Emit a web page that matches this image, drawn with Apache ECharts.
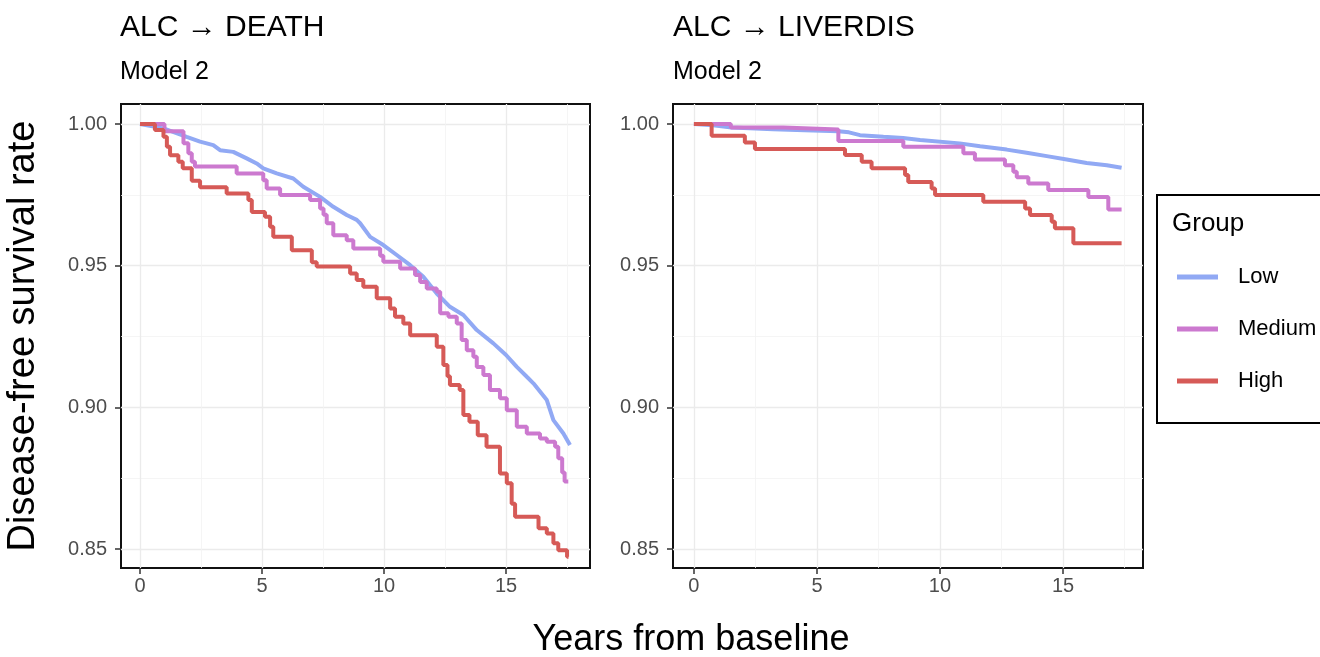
<!DOCTYPE html>
<html>
<head>
<meta charset="utf-8">
<script src="https://cdn.jsdelivr.net/npm/echarts@6/dist/echarts.min.js"></script>
<style>
  html, body { margin: 0; padding: 0; background: #fff; }
  #chart { width: 1320px; height: 657px; }
</style>
</head>
<body>
<div id="chart"></div>
<script>
// ALC -> DEATH, Kaplan-Meier style curves (years, survival)
const deathLowT = [0, 0.96, 1.91, 2.46, 3.0, 3.28, 3.82, 4.37, 4.78, 5.05, 5.6, 6.28, 6.69, 7.38, 7.92, 8.47, 8.88, 9.02, 9.43, 9.97, 10.52, 11.07, 11.61, 12.16, 12.7, 13.25, 13.8, 14.48, 15.0, 15.44, 15.85, 16.12, 16.67, 16.94, 17.35, 17.62];
const deathLowS = [1.0, 0.9985, 0.9955, 0.9938, 0.9926, 0.9908, 0.9902, 0.9879, 0.9861, 0.9844, 0.9826, 0.9808, 0.9779, 0.9743, 0.9708, 0.9679, 0.9662, 0.965, 0.9602, 0.9573, 0.9538, 0.9502, 0.9461, 0.9402, 0.9355, 0.9326, 0.9273, 0.9226, 0.9185, 0.9143, 0.9108, 0.9085, 0.9026, 0.8955, 0.8908, 0.8867];

const deathMedT = [0, 1.0, 1.78, 1.98, 2.12, 2.25, 3.96, 5.05, 5.19, 5.74, 6.97, 7.38, 7.52, 7.65, 7.92, 8.47, 8.74, 9.84, 9.97, 10.66, 11.27, 11.48, 11.75, 12.16, 12.3, 12.64, 12.98, 13.18, 13.39, 13.66, 13.8, 14.07, 14.34, 14.75, 15.03, 15.44, 15.85, 16.39, 16.67, 17.01, 17.14, 17.3, 17.4, 17.55];
const deathMedS = [1.0, 0.9975, 0.9932, 0.9897, 0.9867, 0.985, 0.9826, 0.9802, 0.9773, 0.975, 0.9732, 0.9702, 0.968, 0.965, 0.9608, 0.959, 0.9561, 0.9535, 0.9514, 0.949, 0.9467, 0.9443, 0.942, 0.9408, 0.9332, 0.932, 0.9296, 0.9238, 0.9202, 0.9179, 0.9143, 0.9114, 0.9061, 0.9032, 0.899, 0.8932, 0.8908, 0.889, 0.8879, 0.8861, 0.882, 0.877, 0.8738, 0.8738];

const deathHighT = [0, 0.61, 0.96, 1.1, 1.23, 1.57, 1.75, 2.12, 2.46, 3.55, 4.44, 4.58, 5.12, 5.33, 5.46, 6.22, 7.04, 7.24, 8.61, 8.88, 9.15, 9.7, 10.25, 10.45, 10.79, 11.07, 12.16, 12.43, 12.6, 12.7, 13.1, 13.25, 13.5, 13.84, 14.2, 14.75, 15.03, 15.23, 15.37, 16.33, 16.67, 16.94, 17.14, 17.5, 17.56];
const deathHighS = [1.0, 0.9979, 0.9955, 0.992, 0.989, 0.9867, 0.9844, 0.98, 0.9777, 0.9755, 0.9732, 0.969, 0.9673, 0.9638, 0.9602, 0.9555, 0.9512, 0.9497, 0.9473, 0.945, 0.9426, 0.9385, 0.9349, 0.932, 0.9296, 0.9255, 0.9214, 0.915, 0.911, 0.9079, 0.9061, 0.8973, 0.8949, 0.8902, 0.8861, 0.8767, 0.8732, 0.866, 0.8614, 0.8573, 0.8555, 0.852, 0.8496, 0.8473, 0.8473];

// ALC -> LIVERDIS
const liverLowT = [0, 0.78, 1.53, 3.22, 4.5, 5.87, 6.3, 6.75, 7.7, 8.5, 9.19, 10.8, 11.63, 12.71, 13.52, 14.34, 15.15, 15.96, 16.78, 17.38];
const liverLowS = [1.0, 0.9996, 0.9988, 0.9982, 0.9978, 0.9975, 0.9971, 0.9961, 0.9955, 0.9951, 0.9944, 0.9932, 0.9922, 0.991, 0.9899, 0.9887, 0.9875, 0.9863, 0.9855, 0.9846];

const liverMedT = [0, 1.5, 3.63, 5.87, 8.51, 10.95, 11.42, 12.64, 12.98, 13.12, 13.59, 14.4, 16.03, 16.84, 17.38];
const liverMedS = [1.0, 0.9988, 0.9981, 0.994, 0.992, 0.9897, 0.9875, 0.9855, 0.9832, 0.9812, 0.979, 0.9767, 0.9743, 0.9699, 0.9699];

const liverHighT = [0, 0.72, 2.07, 2.48, 6.14, 6.82, 7.22, 8.58, 8.71, 9.66, 9.8, 11.76, 13.46, 13.66, 14.54, 14.67, 15.42, 17.38];
const liverHighS = [1.0, 0.9959, 0.9935, 0.9912, 0.9891, 0.9867, 0.9844, 0.982, 0.9796, 0.9773, 0.975, 0.9726, 0.9702, 0.9679, 0.9655, 0.9632, 0.9579, 0.9579];

const groups = ['Low', 'Medium', 'High'];
const colors = ['#91a9f4', '#cc79cf', '#d65a57'];
const xTicks = [0, 5, 10, 15];
const yTicks = [0.85, 0.90, 0.95, 1.00];

const font = "'Liberation Sans', Arial, Helvetica, sans-serif";

function pairs(ts, ss) {
    return ts.map((t, i) => [t, ss[i]]);
}

function xAxisFor(gridIndex, min, max) {
    return {
        type: 'value', gridIndex: gridIndex, min: min, max: max, splitNumber: 4,
        axisLine: { show: false, onZero: false },
        axisTick: { show: true, customValues: xTicks, length: 6, lineStyle: { color: '#333', width: 1.5 } },
        axisLabel: { customValues: xTicks, margin: 8, fontSize: 20, color: '#4d4d4d', fontFamily: font },
        splitLine: { show: true, lineStyle: { color: '#ebebeb', width: 1.3 } },
        minorTick: { show: false, splitNumber: 2 },
        minorSplitLine: { show: true, lineStyle: { color: '#f2f2f2', width: 0.8 } }
    };
}

function yAxisFor(gridIndex, withName) {
    const ax = {
        type: 'value', gridIndex: gridIndex, min: 0.8433, max: 1.0071, splitNumber: 4,
        axisLine: { show: false, onZero: false },
        axisTick: { show: true, customValues: yTicks, length: 6, lineStyle: { color: '#333', width: 1.5 } },
        axisLabel: { customValues: yTicks, margin: 14, fontSize: 20, color: '#4d4d4d', fontFamily: font,
            formatter: v => v.toFixed(2) },
        splitLine: { show: true, lineStyle: { color: '#ebebeb', width: 1.3 } },
        minorTick: { show: false, splitNumber: 2 },
        minorSplitLine: { show: true, lineStyle: { color: '#f2f2f2', width: 0.8 } }
    };
    if (withName) {
        ax.name = 'Disease-free survival rate';
        ax.nameLocation = 'middle';
        ax.nameRotate = 90;
        ax.nameGap = 78;
        ax.nameTextStyle = { fontSize: 38, color: '#000', fontFamily: font };
    }
    return ax;
}

const curves = [
    [pairs(deathLowT, deathLowS), pairs(deathMedT, deathMedS), pairs(deathHighT, deathHighS)],
    [pairs(liverLowT, liverLowS), pairs(liverMedT, liverMedS), pairs(liverHighT, liverHighS)]
];

const series = [];
curves.forEach((panel, p) => {
    panel.forEach((data, g) => {
        series.push({
            name: groups[g], type: 'line', xAxisIndex: p, yAxisIndex: p,
            data: data, step: g === 0 ? false : 'end',
            showSymbol: false, symbol: 'none', silent: true,
            color: colors[g],
            lineStyle: { width: 4, color: colors[g] },
            z: 2 + g
        });
    });
});

const chart = echarts.init(document.getElementById('chart'));

chart.setOption({
    animation: false,
    backgroundColor: '#fff',
    textStyle: { fontFamily: font },
    title: [
        { text: 'ALC → DEATH', left: 120, top: 13, padding: 0, textStyle: { fontSize: 30, fontWeight: 'normal', color: '#000', fontFamily: font } },
        { text: 'Model 2', left: 120, top: 60, padding: 0, textStyle: { fontSize: 25, fontWeight: 'normal', color: '#000', fontFamily: font } },
        { text: 'ALC → LIVERDIS', left: 673, top: 13, padding: 0, textStyle: { fontSize: 30, fontWeight: 'normal', color: '#000', fontFamily: font } },
        { text: 'Model 2', left: 673, top: 60, padding: 0, textStyle: { fontSize: 25, fontWeight: 'normal', color: '#000', fontFamily: font } },
        { text: 'Years from baseline', left: 691, top: 622, textAlign: 'center', padding: 0, textStyle: { fontSize: 36, fontWeight: 'normal', color: '#000', fontFamily: font } },
        { text: 'Group', left: 1172, top: 211, padding: 0, textStyle: { fontSize: 26, fontWeight: 'normal', color: '#000', fontFamily: font } }
    ],
    legend: {
        data: groups, orient: 'vertical', left: 1157, top: 195,
        icon: 'rect', itemWidth: 41, itemHeight: 5, itemGap: 30,
        padding: [71, 80, 31, 20],
        borderColor: '#000', borderWidth: 2, borderRadius: 0,
        selectedMode: false,
        textStyle: { fontSize: 22, lineHeight: 22, color: '#000', fontFamily: font, padding: [0, 0, 0, 15] }
    },
    grid: [
        { left: 121, top: 104, width: 469, height: 464, show: true, borderColor: '#111', borderWidth: 2, backgroundColor: '#fff' },
        { left: 673, top: 104, width: 470, height: 464, show: true, borderColor: '#111', borderWidth: 2, backgroundColor: '#fff' }
    ],
    xAxis: [xAxisFor(0, -0.78, 18.44), xAxisFor(1, -0.85, 18.25)],
    yAxis: [yAxisFor(0, true), yAxisFor(1, false)],
    series: series
});
</script>
</body>
</html>
